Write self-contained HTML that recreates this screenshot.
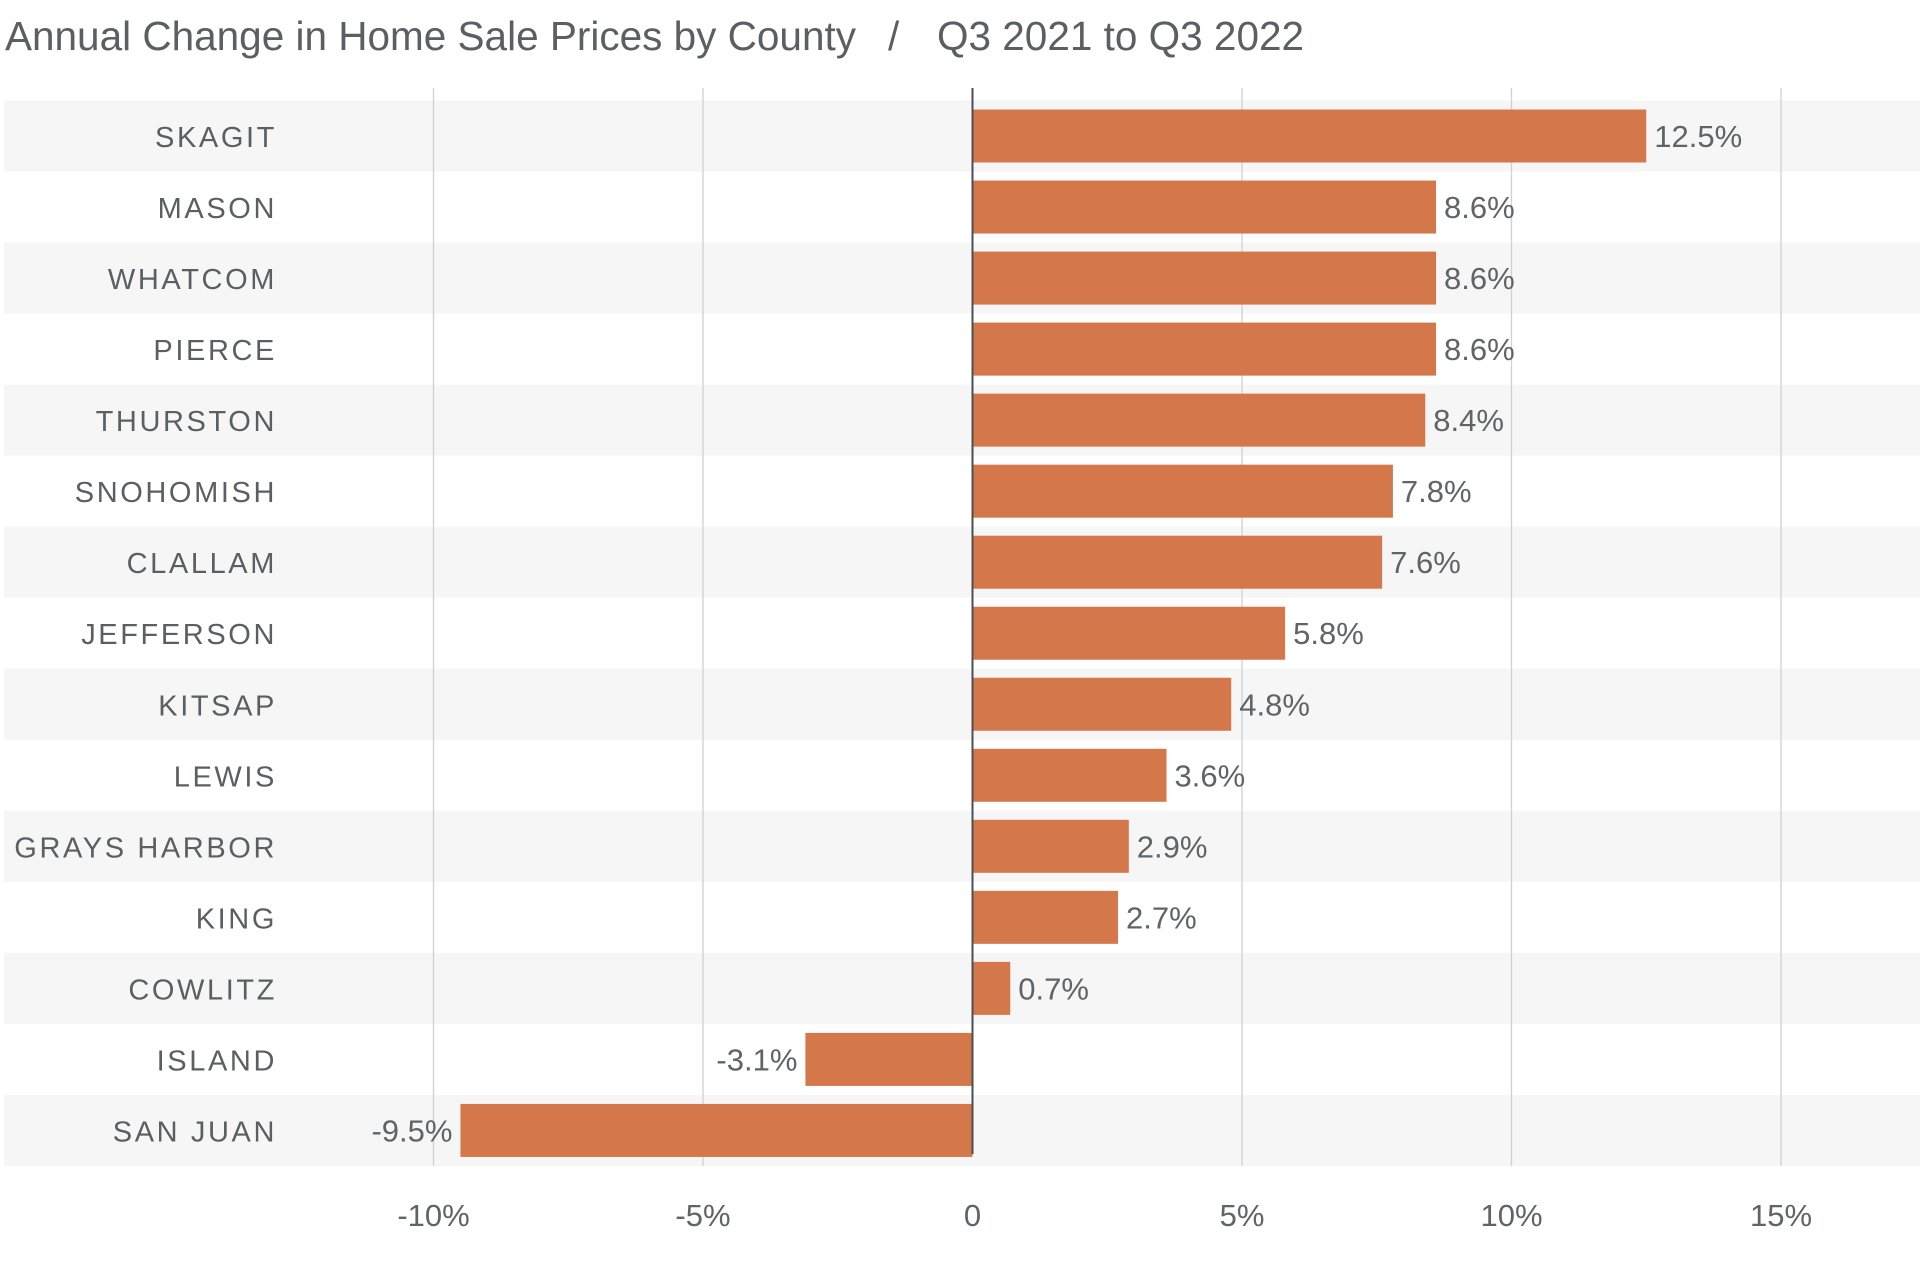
<!DOCTYPE html>
<html><head><meta charset="utf-8"><style>
html,body{margin:0;padding:0;background:#fff;}
svg{display:block;}
.t{font-family:"Liberation Sans",sans-serif;fill:#5a5f63;}
.n{font-family:"Liberation Sans Narrow","Liberation Sans",sans-serif;fill:#5f6468;}
</style></head><body>
<svg id="chart" width="1920" height="1277" viewBox="0 0 1920 1277" xmlns="http://www.w3.org/2000/svg">
<g>
<text class="t" x="5" y="50" font-size="40.5">Annual Change in Home Sale Prices by County</text>
<text class="t" x="888" y="50" font-size="40.5">/</text>
<text class="t" x="937" y="50" font-size="40.5">Q3 2021 to Q3 2022</text>
</g>
<g id="bands"></g><g id="grid"></g><g id="bars"></g><g id="labels"></g>
</svg>
<script>
var counties = ["SKAGIT","MASON","WHATCOM","PIERCE","THURSTON","SNOHOMISH","CLALLAM","JEFFERSON","KITSAP","LEWIS","GRAYS HARBOR","KING","COWLITZ","ISLAND","SAN JUAN"];
var values = [12.5,8.6,8.6,8.6,8.4,7.8,7.6,5.8,4.8,3.6,2.9,2.7,0.7,-3.1,-9.5];
var valueLabels = ["12.5%","8.6%","8.6%","8.6%","8.4%","7.8%","7.6%","5.8%","4.8%","3.6%","2.9%","2.7%","0.7%","-3.1%","-9.5%"];
var ticks = [-10,-5,0,5,10,15];
var tickLabels = ["-10%","-5%","0","5%","10%","15%"];

var NS = "http://www.w3.org/2000/svg";
var x0 = 972.5, pxPer = 53.9;
function xs(v){ return x0 + v * pxPer; }
var top0 = 100.5, rowH = 71.03, barH = 53;
function ys(i){ return top0 + i * rowH; }
function mk(tag, parentId){
  var e = document.createElementNS(NS, tag);
  document.getElementById(parentId).appendChild(e);
  return e;
}

for (var i = 0; i < counties.length; i++) {
  if (i % 2 === 0) {
    var b = mk('rect', 'bands');
    b.setAttribute('x', 4); b.setAttribute('y', ys(i));
    b.setAttribute('width', 1916); b.setAttribute('height', rowH);
    b.setAttribute('fill', '#f6f6f6');
    
    
  }
}
for (var k = 0; k < ticks.length; k++) {
  var t = ticks[k];
  if (t !== 0) {
    var g = mk('line', 'grid');
    g.setAttribute('x1', xs(t)); g.setAttribute('x2', xs(t));
    g.setAttribute('y1', 88); g.setAttribute('y2', 1166);
    g.setAttribute('stroke', '#d0d0d0'); g.setAttribute('stroke-width', 1.3);
    
    
  }
  var tl = mk('text', 'labels');
  tl.setAttribute('x', xs(t)); tl.setAttribute('y', 1226);
  tl.setAttribute('text-anchor', 'middle'); tl.setAttribute('font-size', 31);
  tl.setAttribute('class', 'n');
  tl.textContent = tickLabels[k];
  
  
}
for (var j = 0; j < values.length; j++) {
  var v = values[j];
  var y = ys(j) + (rowH - barH) / 2;
  var r = mk('rect', 'bars');
  r.setAttribute('x', Math.min(xs(0), xs(v))); r.setAttribute('y', y);
  r.setAttribute('width', Math.abs(xs(v) - xs(0))); r.setAttribute('height', barH);
  r.setAttribute('fill', '#d4774a');
  
  

  var vl = mk('text', 'labels');
  vl.setAttribute('x', v >= 0 ? xs(v) + 8 : xs(v) - 8);
  vl.setAttribute('y', y + barH / 2 + 11);
  vl.setAttribute('text-anchor', v >= 0 ? 'start' : 'end');
  vl.setAttribute('font-size', 31);
  vl.setAttribute('class', 'n');
  vl.textContent = valueLabels[j];
  
  

  var cl = mk('text', 'labels');
  cl.setAttribute('x', 277);
  cl.setAttribute('y', ys(j) + rowH / 2 + 11);
  cl.setAttribute('text-anchor', 'end');
  cl.setAttribute('font-size', 29);
  cl.setAttribute('letter-spacing', '2.6');
  cl.setAttribute('class', 't');
  cl.textContent = counties[j];
  
  
}
var z = mk('line', 'bars');
z.setAttribute('x1', xs(0)); z.setAttribute('x2', xs(0));
z.setAttribute('y1', 88); z.setAttribute('y2', 1154);
z.setAttribute('stroke', '#4a4f53'); z.setAttribute('stroke-width', 2);


</script>
</body></html>
